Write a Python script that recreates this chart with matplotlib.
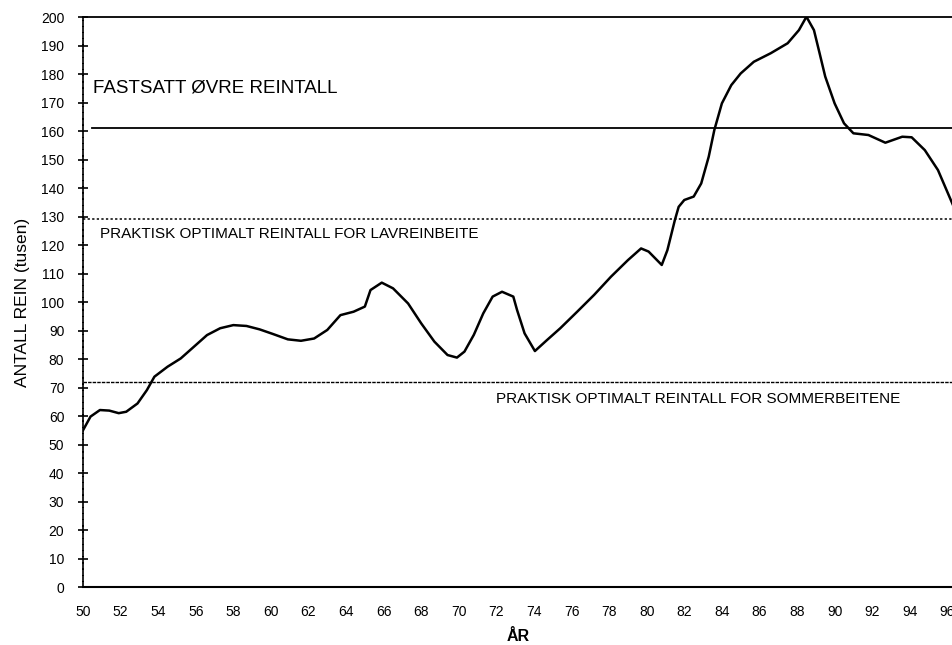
import numpy as np
import matplotlib
matplotlib.use("Agg")
import matplotlib.pyplot as plt

plt.rcParams['font.family'] = ['Liberation Sans', 'DejaVu Sans']

# reindeer count (thousands)
years = [50.0, 50.4, 50.9, 51.4, 51.9, 52.3, 52.9, 53.4, 53.8, 54.5,
         55.2, 55.9, 56.6, 57.3, 58.0, 58.7, 59.4, 60.1, 60.9, 61.6,
         62.3, 63.0, 63.7, 64.4, 65.0, 65.3, 65.9, 66.5, 67.3, 68.0,
         68.7, 69.4, 69.9, 70.3, 70.8, 71.3, 71.8, 72.3, 72.9, 73.1,
         73.5, 74.05, 74.7, 75.4, 76.3, 77.2, 78.1, 79.0, 79.7, 80.1,
         80.8, 81.1, 81.5, 81.7, 82.0, 82.5, 82.9, 83.3, 83.6, 84.0,
         84.5, 85.0, 85.7, 86.6, 87.5, 88.1, 88.5, 88.9, 89.2, 89.5,
         90.0, 90.5, 91.0, 91.8, 92.7, 93.6, 94.1, 94.8, 95.5, 96.3]
rein = [55.0, 59.8, 62.1, 61.9, 61.0, 61.5, 64.4, 69.1, 73.8, 77.3,
        80.2, 84.3, 88.4, 90.8, 91.9, 91.6, 90.4, 88.8, 86.9, 86.4,
        87.2, 90.2, 95.4, 96.6, 98.4, 104.2, 106.8, 104.8, 99.5, 92.5,
        86.1, 81.4, 80.5, 82.6, 88.5, 96.0, 101.9, 103.6, 101.9, 97.2,
        89.0, 82.8, 86.7, 90.8, 96.6, 102.5, 108.9, 114.7, 118.8, 117.7,
        113.0, 118.2, 128.8, 133.4, 135.8, 137.0, 141.6, 151.0, 160.4, 169.7,
        176.1, 180.2, 184.3, 187.3, 190.8, 195.4, 200.1, 195.4, 187.3, 179.1,
        169.7, 162.7, 159.2, 158.6, 155.9, 158.0, 157.8, 153.3, 146.3, 134.0]

year_ticks = list(range(50, 97, 2))
year_labels = [str(y) for y in year_ticks]
rein_ticks = list(range(0, 201, 10))

fastsatt = 161
lavreinbeite = 129
sommerbeite = 72

fig = plt.figure(figsize=(9.53, 6.45), dpi=100)
ax = fig.add_axes([0.0871, 0.0899, 0.9129, 0.8837])

ax.plot(years, rein, color='black', linewidth=1.8)

ax.axhline(fastsatt, xmin=0.01, color='black', linewidth=1.3)
ax.axhline(lavreinbeite, color='black', linewidth=1.1, linestyle=(0, (1.5, 1.5)))
ax.axhline(sommerbeite, color='black', linewidth=1.0, linestyle=(0, (2.5, 0.8)))

ax.text(50.55, 175, 'FASTSATT ØVRE REINTALL', fontsize=13.5, va='center')
ax.text(50.9, 124, 'PRAKTISK OPTIMALT REINTALL FOR LAVREINBEITE', fontsize=11, va='center')
ax.text(72.0, 66, 'PRAKTISK OPTIMALT REINTALL FOR SOMMERBEITENE', fontsize=11, va='center')

ax.set_xlim(50, 96.3)
ax.set_ylim(0, 200)
ax.set_xticks(year_ticks)
ax.set_xticklabels(year_labels)
ax.set_yticks(rein_ticks)

ax.tick_params(axis='x', length=0, pad=13, labelsize=10)
ax.tick_params(axis='y', direction='inout', length=7, width=1.2, pad=10, labelsize=10)

ax.spines['right'].set_visible(False)
ax.spines['top'].set_linewidth(1.3)
ax.spines['bottom'].set_linewidth(1.5)
ax.spines['left'].set_linewidth(1.2)
ax.spines['left'].set_linestyle((0, (3, 0.7)))

ax.set_ylabel('ANTALL REIN (tusen)', fontsize=12.5, labelpad=8)
ax.set_xlabel('ÅR', fontsize=11.5, fontweight='bold', labelpad=7)

plt.savefig('out.png', dpi=100)
plt.close('all')
